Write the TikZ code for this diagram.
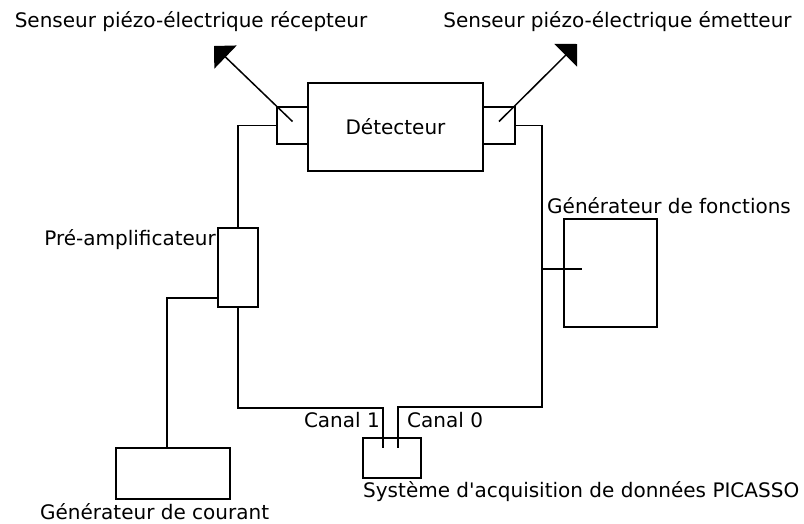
\documentclass[tikz,border=0pt]{standalone}
\usepackage{fontspec}
\setmainfont{DejaVu Sans}
\usetikzlibrary{arrows.meta}

\begin{document}
\begin{tikzpicture}[x=1pt,y=-1pt,>={Triangle[length=16pt,width=32pt]},
	boite/.style={draw,line width=1.5pt,inner sep=0pt},
	fil/.style={line width=1.5pt},
	etiquette/.style={inner sep=0pt},
	every node/.style={font=\fontsize{20}{23}\selectfont}]
		\useasboundingbox (0,0) rectangle (804,523);
		% les appareils
		\node[boite,minimum width=175pt,minimum height=88pt] (detecteur) at (395.5,127) {Détecteur};
		\node[boite,minimum width=31pt,minimum height=37pt] (capteurR) at (292.5,125.5) {};
		\node[boite,minimum width=32pt,minimum height=37pt] (capteurE) at (499,125.5) {};
		\node[boite,minimum width=40pt,minimum height=79pt] (preampli) at (238,267.5) {};
		\node[boite,minimum width=93pt,minimum height=108pt] (genfonc) at (610.5,273) {};
		\node[boite,minimum width=114pt,minimum height=51pt] (gencour) at (173,473.5) {};
		\node[boite,minimum width=58pt,minimum height=40pt] (acquis) at (392,458) {};
		% les fils
		\coordinate (canal1) at (383,448) ;
		\coordinate (canal0) at (398,448) ;
		\coordinate (prise) at (542,269) ;
		\draw[fil] (capteurR.west) -| (preampli.north) ;
		\draw[fil] (preampli.south) |- (383,408) -- (canal1) ;
		\draw[fil] ([yshift=10pt]preampli.south west) -| ([xshift=-6pt]gencour.north) ;
		\draw[fil] (capteurE.east) -| (542,407) -| (canal0) ;
		\draw[fil] (prise) -- ([xshift=19pt,yshift=4pt]genfonc.west) ;
		% les ondes
		\coordinate (pointeR) at (214,46) ;
		\coordinate (pointeE) at (577,44) ;
		\draw[fil,->] ([yshift=4pt]capteurR.center) -- (pointeR) ;
		\draw[fil,->] ([yshift=4pt]capteurE.center) -- (pointeE) ;
		% les textes
		\node[etiquette,anchor=base] (txtR) at (191,27) {Senseur piézo-électrique récepteur};
		\node[etiquette,anchor=base] (txtE) at (617.5,27) {Senseur piézo-électrique émetteur};
		\node[etiquette,anchor=base east] (txtPre) at (216,245) {Pré-amplificateur};
		\node[etiquette,anchor=base west] (txtFonc) at (547,213) {Générateur de fonctions};
		\node[etiquette,anchor=base east] (txtC1) at (380,427) {Canal 1};
		\node[etiquette,anchor=base west] (txtC0) at (407,427) {Canal 0};
		\node[etiquette,anchor=base west] (txtAcq) at (363,497) {Système d\textquotesingle acquisition de données PICASSO};
		\node[etiquette,anchor=base west,text depth=0pt] (txtCour) at (40,519) {Générateur de courant};
	\end{tikzpicture}
\end{document}
